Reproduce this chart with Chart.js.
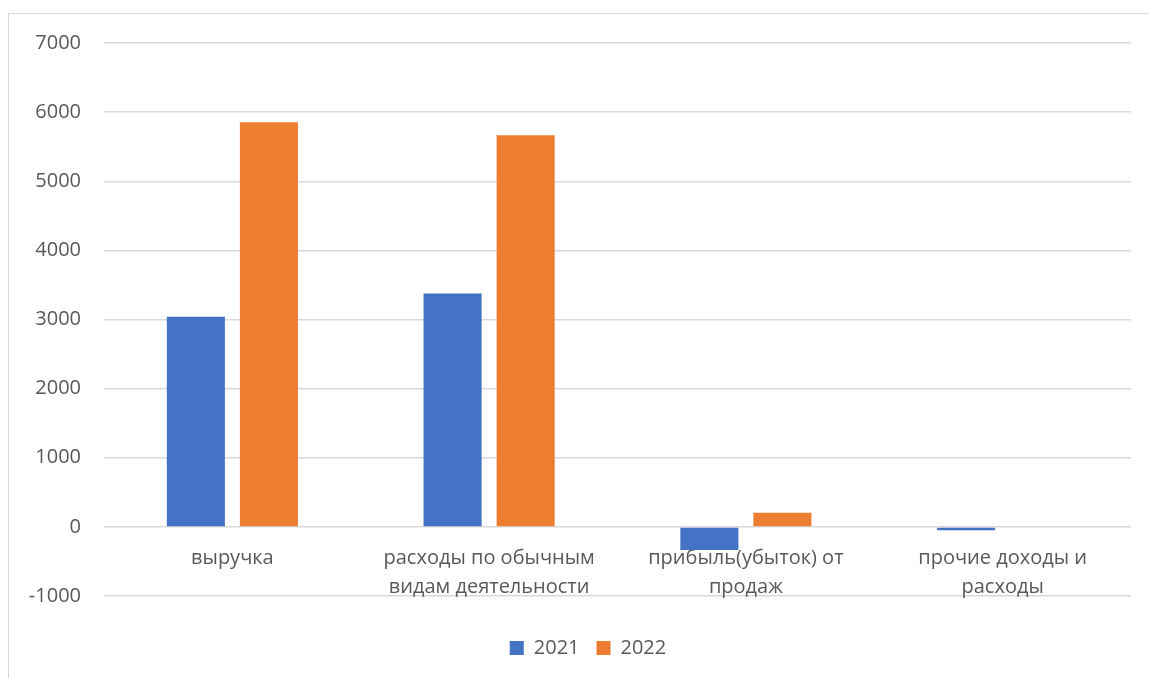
<!DOCTYPE html>
<html>
<head>
<meta charset="utf-8">
<script src="https://cdn.jsdelivr.net/npm/chart.js@4.4.1/dist/chart.umd.min.js"></script>
<style>
  html, body { margin: 0; padding: 0; background: #fff; }
  #wrap { position: relative; width: 1149px; height: 678px; overflow: hidden; }
  #frame { position: absolute; left: 8px; top: 13px; width: 1200px; height: 700px;
           border-left: 1px solid #d9d9d9; border-top: 1px solid #d9d9d9; }
  canvas { position: absolute; left: 0; top: 0; }
</style>
</head>
<body>
<div id="wrap">
  <div id="frame"></div>
  <canvas id="c" width="1149" height="678"></canvas>
</div>
<script>
// Показатели отчёта о финансовых результатах, тыс. руб.
const categories = [
  'выручка',
  ['расходы по обычным', 'видам деятельности'],
  ['прибыль(убыток) от', 'продаж'],
  ['прочие доходы и', 'расходы']
];
const values2021 = [3040, 3375, -335, -50];
const values2022 = [5855, 5665, 205, 0];
const seriesNames = ['2021', '2022'];
const yMin = -1000;
const yMax = 7000;
const yStep = 1000;

const FONT = "'Open Sans', 'Noto Sans', sans-serif";
const TEXT = '#595959';
const GRID = '#d9d9d9';

// empty scale used only to reserve space in the layout
const spacer = (pos, size) => ({
  type: 'linear',
  position: pos,
  grid: { display: false, drawTicks: false },
  border: { display: false },
  ticks: { display: false },
  afterFit: (s) => {
    if (pos === 'bottom') { s.height = size; } else { s.width = size; }
  }
});

new Chart(document.getElementById('c'), {
  type: 'bar',
  data: {
    labels: categories,
    datasets: [
      { label: seriesNames[0], data: values2021, backgroundColor: '#4472c4', xAxisID: 'x', yAxisID: 'y' },
      { label: seriesNames[1], data: values2022, backgroundColor: '#ed7d31', xAxisID: 'x', yAxisID: 'y' }
    ]
  },
  options: {
    responsive: false,
    animation: false,
    devicePixelRatio: 1,
    categoryPercentage: 0.569,
    barPercentage: 0.795,
    layout: { padding: { top: 43, right: -27, bottom: 10, left: 0 } },
    plugins: {
      tooltip: { enabled: false },
      legend: {
        position: 'bottom',
        labels: {
          color: TEXT,
          font: { family: FONT, size: 20 },
          boxWidth: 14,
          boxHeight: 14,
          padding: 17
        }
      }
    },
    scales: {
      x: {
        type: 'category',
        position: { y: 0 },
        grid: { display: false, drawTicks: false },
        border: { display: false },
        ticks: {
          color: TEXT,
          font: { family: FONT, size: 20, lineHeight: 1.45 },
          padding: 17,
          maxRotation: 0,
          autoSkip: false
        }
      },
      gapBottom: spacer('bottom', 25),
      gapRight: spacer('right', 45),
      y: {
        type: 'linear',
        min: yMin,
        max: yMax,
        afterFit: (s) => { s.width = 104; },
        grid: { color: GRID, lineWidth: 1.5, drawTicks: false },
        border: { display: false },
        ticks: {
          stepSize: yStep,
          color: TEXT,
          font: { family: FONT, size: 20 },
          padding: 23,
          callback: (v) => String(v)
        }
      }
    }
  }
});
</script>
</body>
</html>
